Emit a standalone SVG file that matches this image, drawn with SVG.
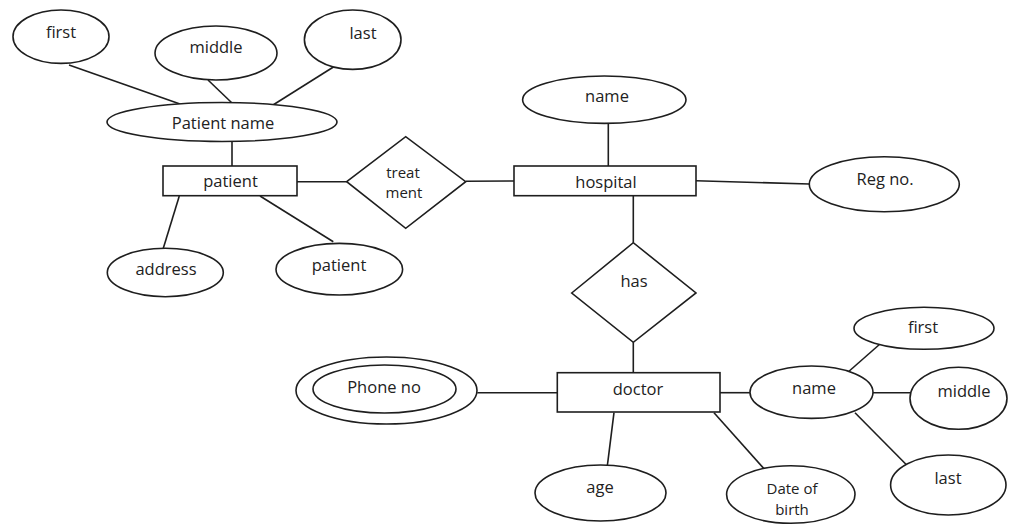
<svg xmlns="http://www.w3.org/2000/svg" width="1009" height="527" viewBox="0 0 1009 527">
<style>
.s{fill:#fff;stroke:#1e1e1e;stroke-width:1.6}
.c line{stroke:#1e1e1e;stroke-width:1.6}
text{font-family:"Open Sans","Noto Sans","Liberation Sans",sans-serif;font-size:16.5px;fill:#222;text-anchor:middle}
text.two{font-size:15px}
</style>
<rect width="1009" height="527" fill="#fff"/>
<g class="c" id="connectors">
<line x1="69" y1="65" x2="180" y2="104"/>
<line x1="208" y1="80" x2="232" y2="103"/>
<line x1="335" y1="66" x2="273" y2="105"/>
<line x1="232" y1="142" x2="232" y2="166"/>
<line x1="297" y1="181.7" x2="346.7" y2="181.7"/>
<line x1="465.7" y1="181.2" x2="514" y2="181"/>
<line x1="179.3" y1="196" x2="163.3" y2="248.3"/>
<line x1="260" y1="196" x2="333.3" y2="241.7"/>
<line x1="608.3" y1="123.3" x2="608.3" y2="166"/>
<line x1="696" y1="180.7" x2="809.3" y2="184"/>
<line x1="633.3" y1="195.7" x2="633.3" y2="242.7"/>
<line x1="633.3" y1="342.3" x2="633.3" y2="372.7"/>
<line x1="477.3" y1="392.7" x2="557.3" y2="392.7"/>
<line x1="614" y1="412.7" x2="607.3" y2="466"/>
<line x1="714" y1="412.7" x2="766.7" y2="471.7"/>
<line x1="720" y1="392.7" x2="750" y2="392.7"/>
<line x1="847" y1="373" x2="880" y2="344"/>
<line x1="873" y1="392.7" x2="910" y2="392.7"/>
<line x1="855" y1="412.7" x2="906.7" y2="465"/>
</g>
<g id="attr-first-1"><ellipse class="s" cx="61" cy="36.7" rx="48" ry="26.7"/><text x="61" y="37.5">first</text></g>
<g id="attr-middle-1"><ellipse class="s" cx="216" cy="53" rx="61" ry="27"/><text x="216" y="53">middle</text></g>
<g id="attr-last-1"><ellipse class="s" cx="352.7" cy="39.7" rx="48.3" ry="29.7"/><text x="363" y="38.5">last</text></g>
<g id="attr-patient-name"><ellipse class="s" cx="222" cy="122" rx="115" ry="19.5"/><text x="223" y="129">Patient name</text></g>
<g id="entity-patient"><rect class="s" x="163" y="166" width="134" height="29.7"/><text x="230.5" y="187">patient</text></g>
<g id="rel-treatment"><polygon class="s" points="346.7,181.7 405.7,136.7 465.7,181.7 405.7,228.3"/><text class="two" x="403" y="177.5">treat</text><text class="two" x="404" y="198">ment</text></g>
<g id="attr-address"><ellipse class="s" cx="165.3" cy="272.5" rx="58" ry="24.2"/><text x="166" y="275">address</text></g>
<g id="attr-patient"><ellipse class="s" cx="339.3" cy="269.2" rx="63.3" ry="25.8"/><text x="339" y="270.5">patient</text></g>
<g id="attr-hospital-name"><ellipse class="s" cx="604.3" cy="99.7" rx="81.7" ry="23.7"/><text x="607" y="101.5">name</text></g>
<g id="entity-hospital"><rect class="s" x="514" y="166" width="182" height="29.7"/><text x="606" y="187.5">hospital</text></g>
<g id="attr-reg-no"><ellipse class="s" cx="884.3" cy="184.2" rx="75" ry="27.5"/><text x="885" y="185">Reg no.</text></g>
<g id="rel-has"><polygon class="s" points="571.7,293 633.3,242.7 696,293 633.3,342.3"/><text x="634" y="287">has</text></g>
<g id="attr-phone-no"><ellipse class="s" cx="386.5" cy="390.5" rx="90.5" ry="33.5"/><ellipse class="s" cx="384.5" cy="389" rx="71.5" ry="24"/><text x="384" y="392.5">Phone no</text></g>
<g id="entity-doctor"><rect class="s" x="557.3" y="372.7" width="162.7" height="39.3"/><text x="638" y="395">doctor</text></g>
<g id="attr-age"><ellipse class="s" cx="600.5" cy="493" rx="65.5" ry="28"/><text x="600" y="493">age</text></g>
<g id="attr-dob"><ellipse class="s" cx="790.8" cy="494.5" rx="64.2" ry="28.8"/><text class="two" x="792" y="494">Date of</text><text class="two" x="792" y="514.5">birth</text></g>
<g id="attr-doctor-name"><ellipse class="s" cx="811.5" cy="392.2" rx="61.5" ry="26.2"/><text x="814" y="393.5">name</text></g>
<g id="attr-first-2"><ellipse class="s" cx="924" cy="328.3" rx="70" ry="21"/><text x="923" y="333">first</text></g>
<g id="attr-middle-2"><ellipse class="s" cx="958.5" cy="398.3" rx="48.5" ry="31"/><text x="964" y="397">middle</text></g>
<g id="attr-last-2"><ellipse class="s" cx="948.3" cy="485" rx="57.7" ry="30"/><text x="948" y="484">last</text></g>
</svg>
